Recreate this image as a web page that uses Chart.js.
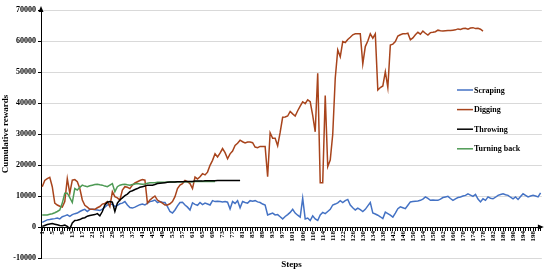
<!DOCTYPE html>
<html><head><meta charset="utf-8">
<script src="https://cdn.jsdelivr.net/npm/chart.js@4.4.1/dist/chart.umd.min.js"></script>
<style>html,body{margin:0;padding:0;background:#fff;}canvas{display:block;}</style>
</head><body>
<canvas id="c" width="550" height="273"></canvas>
<script>
// Step labels on the category axis (one step number is skipped after 102)
const steps = [];
for (let s = 1; s <= 201; s++) { if (s !== 103) steps.push(s); }

const yTicks = [-10000, 0, 10000, 20000, 30000, 40000, 50000, 60000, 70000];

const scraping = [1500,1900,2300,2400,2600,2700,2900,2600,3300,3600,
 3900,3400,4000,4300,4500,5000,5400,5700,5000,5700,
 5700,5600,5500,5300,5800,6400,7100,7300,7400,6600,
 7000,7500,7700,8200,7100,6300,6100,6400,6800,7200,
 7400,7100,7700,8200,8400,8700,7900,8200,8000,7900,
 6600,5000,4500,5500,6800,7900,8000,7100,6400,5500,
 7800,7300,7000,7900,7200,7700,7400,7100,8500,8200,
 8300,8200,8100,8200,8000,5800,8200,7600,8500,6200,
 8200,7900,7700,8500,8300,8500,8100,7900,7400,7100,
 3900,4200,4500,3900,4000,3300,2600,3400,4000,4700,
 5700,4500,3800,3200,9300,2600,2900,2100,3600,2600,
 2100,3900,4700,4300,5000,5700,7100,7400,7800,8500,
 7900,8500,8900,7100,6200,5500,6100,5600,5000,5700,
 6800,7900,4500,4200,3800,3300,2700,4800,4300,3800,
 3200,4500,5900,6500,6200,5900,7000,8100,8200,8300,
 8400,8600,9000,9700,9200,8600,8700,8600,8600,9000,
 9500,9700,9900,9200,8600,9100,9500,9700,10000,10200,
 10700,10300,9900,10500,9000,8100,9100,8600,9700,9300,
 9100,9600,10200,10500,10700,10400,10200,9600,9100,9700,
 8900,9800,10700,10200,9700,10000,10200,10000,9700,11000];

const digging = [13000,15000,15600,16000,13000,7700,7100,6700,6400,8200,
 15600,10900,15100,15300,14600,12400,8700,7000,6400,5700,
 5700,5700,6200,6600,7400,7600,8200,6600,11400,9800,
 9400,8700,11900,13000,12800,12400,13500,14200,14600,15000,
 15300,15100,7700,8700,9400,10000,8700,8200,7700,7100,
 7100,7500,8200,9800,12400,13500,14000,15000,14600,14000,
 12400,16100,15500,16200,17200,16800,17700,19900,21500,23600,
 22600,23800,25300,24000,22000,23600,24500,26300,27000,28000,
 27500,27100,27400,27400,27200,25800,25600,26000,26000,26000,
 16200,30400,28600,28600,26200,30500,35400,35500,35800,37300,
 36500,35800,37500,39000,40400,39800,41000,40400,36000,30700,
 49600,14300,14300,42400,19500,21600,29900,48000,57100,54900,
 59800,59500,60500,61200,62000,62300,62300,62300,52600,58200,
 60000,62300,60900,62300,44200,45000,45500,50100,45000,58700,
 59000,59800,61600,62000,62300,62300,62500,60400,61000,62000,
 62800,62200,63200,62500,61900,62700,62800,63000,63500,63300,
 63200,63300,63400,63400,63500,63600,63900,63700,64000,64100,
 63800,64200,64300,64000,64100,63800,63200];

const throwing = [200,500,800,1000,1100,900,700,500,400,600,
 200,-600,1300,2100,2200,2400,2800,3000,3500,3700,
 3900,4000,4300,3600,5000,7100,8000,8200,8000,5000,
 7700,8700,9400,10100,10600,11400,11700,12100,12400,12800,
 13000,13200,13500,13500,13500,13700,14000,14100,14200,14300,
 14400,14500,14500,14500,14600,14600,14600,14700,14700,14700,
 14700,14800,14800,14800,14800,14900,14900,14900,14900,14900,
 15000,15000,15000,15000,15000,15000,15000,15000,15000,15000];

const turningBack = [3900,3900,3900,4100,4300,4600,5000,5500,7700,10900,
 10900,9500,7900,12400,11900,12800,13500,13200,13000,13300,
 13500,13700,13800,13600,13500,13200,13000,13500,14000,11400,
 13000,13500,13700,13800,13600,13500,13700,13900,14000,13900,
 13800,13900,14100,14300,14300,14300,14400,14400,14400,14400,
 14500,14500,14500,14500,14600,14600,14600,14600,14600,14600,
 14600,14700,14700,14700,14700,14700,14700,14700,14700,14700];

const seriesNames = ['Scraping', 'Digging', 'Throwing', 'Turning back'];
const seriesColors = ['#4472C4', '#A8441C', '#000000', '#4E9A55'];

const FONT = 'Liberation Serif, Times New Roman, serif';

const extras = {
  id: 'extras',
  afterDraw(chart) {
    const ctx = chart.ctx;
    const ca = chart.chartArea;
    const y0 = chart.scales.y.getPixelForValue(0);
    ctx.save();
    ctx.fillStyle = '#000';
    ctx.beginPath();
    ctx.moveTo(ca.left, ca.top - 4);
    ctx.lineTo(ca.left - 2.5, ca.top + 2);
    ctx.lineTo(ca.left + 2.5, ca.top + 2);
    ctx.closePath(); ctx.fill();
    ctx.beginPath();
    ctx.moveTo(ca.right + 2, y0);
    ctx.lineTo(ca.right - 4, y0 - 2.5);
    ctx.lineTo(ca.right - 4, y0 + 2.5);
    ctx.closePath(); ctx.fill();
    ctx.font = 'bold 9px ' + FONT;
    ctx.textAlign = 'center'; ctx.textBaseline = 'middle';
    ctx.fillText('Steps', (ca.left + ca.right) / 2, 265);
    ctx.font = 'bold 8px ' + FONT;
    ctx.textAlign = 'left';
    seriesNames.forEach((n, k) => {
      const ly = 90 + k * 19.6;
      ctx.strokeStyle = seriesColors[k];
      ctx.lineWidth = 1.5;
      ctx.beginPath(); ctx.moveTo(457, ly); ctx.lineTo(473, ly); ctx.stroke();
      ctx.fillStyle = '#000';
      ctx.fillText(n, 474, ly + 0.5);
    });
    ctx.restore();
  }
};

const seriesData = [scraping, digging, throwing, turningBack];
const drawOrder = [3, 2, 0, 1];

new Chart(document.getElementById('c'), {
  type: 'line',
  data: {
    labels: steps,
    datasets: seriesNames.map((n, k) => ({
      label: n,
      data: seriesData[k],
      borderColor: seriesColors[k],
      backgroundColor: seriesColors[k],
      borderWidth: 1.5,
      pointRadius: 0,
      tension: 0,
      fill: false,
      order: drawOrder[k]
    }))
  },
  options: {
    responsive: false,
    animation: false,
    layout: { padding: { top: 10, right: 3, bottom: 15, left: 0 } },
    plugins: { legend: { display: false }, tooltip: { enabled: false } },
    scales: {
      x: {
        type: 'category',
        position: { y: 0 },
        offset: true,
        afterFit: (s) => { s.height = 15; },
        grid: { drawOnChartArea: false, drawTicks: true, tickLength: 3, color: '#000', offset: false },
        border: { color: '#000', width: 1 },
        ticks: {
          autoSkip: false, maxRotation: 90, minRotation: 90, padding: 1,
          color: '#000',
          font: { family: FONT, size: 7, weight: 'bold' },
          callback: (v, i) => (i % 4 === 0 ? String(steps[i]) : '')
        }
      },
      y: {
        min: -10000, max: 70000,
        afterFit: (s) => { s.width = 41; },
        afterBuildTicks: (s) => { s.ticks = yTicks.map(v => ({ value: v })); },
        grid: { color: '#d9d9d9', tickColor: '#000', tickLength: 3, lineWidth: 1 },
        border: { color: '#000', width: 1 },
        ticks: { padding: 2, color: '#000', font: { family: FONT, size: 8, weight: 'bold' },
                 callback: (v) => String(v) },
        title: { display: true, text: 'Cumulative rewards', color: '#000', padding: { top: 0, bottom: 0 },
                 font: { family: FONT, size: 9, weight: 'bold' } }
      }
    }
  },
  plugins: [extras]
});
</script>
</body></html>
